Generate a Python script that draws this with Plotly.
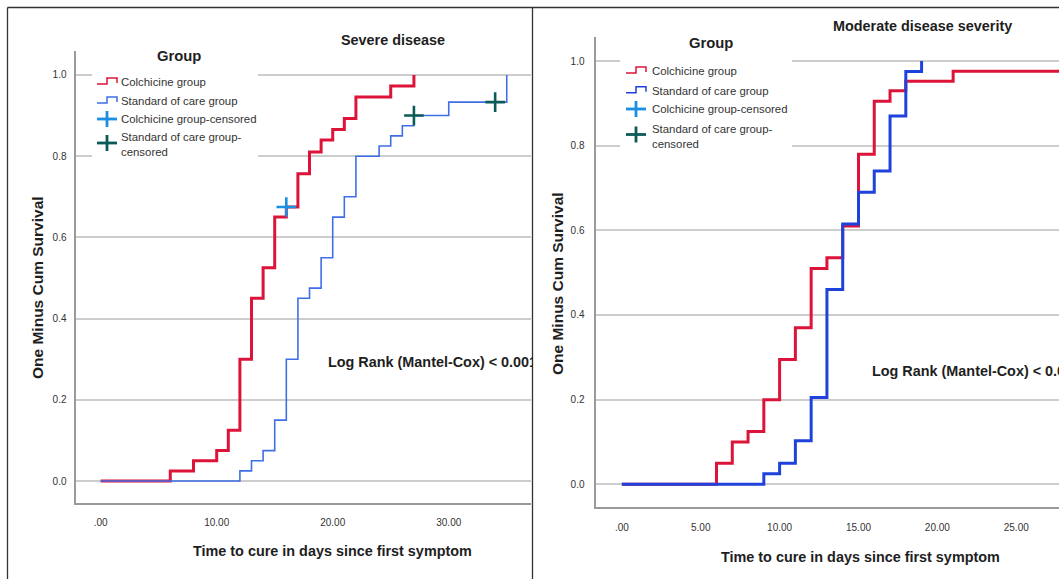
import plotly.graph_objects as go

W, H = 1059, 579

# ---------------- data ----------------
# Severe disease panel
severe_colch_days = [0, 6, 8, 10, 11, 12, 13, 14, 15, 16, 17, 18, 19, 20, 21, 22, 25, 27]
severe_colch_cum = [0.0, 0.025, 0.05, 0.075, 0.125, 0.30, 0.45, 0.525, 0.65, 0.675,
                    0.757, 0.81, 0.84, 0.866, 0.893, 0.946, 0.973, 1.0]
severe_soc_days = [0, 12, 13, 14, 15, 16, 17, 18, 19, 20, 21, 22, 24, 25, 26, 27, 30, 35]
severe_soc_cum = [0.0, 0.025, 0.05, 0.075, 0.15, 0.30, 0.45, 0.475, 0.55, 0.65,
                  0.70, 0.80, 0.825, 0.85, 0.875, 0.90, 0.933, 1.0]
severe_colch_cens_days = [16]
severe_colch_cens_cum = [0.675]
severe_soc_cens_days = [27, 34]
severe_soc_cens_cum = [0.90, 0.933]

# Moderate disease severity panel
moderate_colch_days = [0, 6, 7, 8, 9, 10, 11, 12, 13, 14, 15, 16, 17, 18, 21, 28]
moderate_colch_cum = [0.0, 0.05, 0.10, 0.125, 0.20, 0.295, 0.37, 0.51, 0.535, 0.61,
                      0.78, 0.905, 0.93, 0.952, 0.976, 0.976]
moderate_soc_days = [0, 9, 10, 11, 12, 13, 14, 15, 16, 17, 18, 19]
moderate_soc_cum = [0.0, 0.025, 0.05, 0.103, 0.205, 0.46, 0.615, 0.69, 0.74, 0.87, 0.975, 1.0]

# tick labels
x_tick_vals_severe = [0, 10, 20, 30]
x_tick_text_severe = [".00", "10.00", "20.00", "30.00"]
x_tick_vals_moderate = [0, 5, 10, 15, 20, 25]
x_tick_text_moderate = [".00", "5.00", "10.00", "15.00", "20.00", "25.00"]
y_tick_vals = [0, 0.2, 0.4, 0.6, 0.8, 1.0]
y_tick_text = ["0.0", "0.2", "0.4", "0.6", "0.8", "1.0"]

# texts
panel_titles = ["Severe disease", "Moderate disease severity"]
legend_title = "Group"
legend_labels = ["Colchicine group", "Standard of care group",
                 "Colchicine group-censored", "Standard of care group-<br>censored"]
x_title = "Time to cure in days since first symptom"
y_title = "One Minus Cum Survival"
log_rank_text = "Log Rank (Mantel-Cox) < 0.001"

# ---------------- styles ----------------
RED = "#dc1439"
BLUE_L = "#3f6fe6"
BLUE_R = "#1f42dc"
CENS_C = "#1a8fe3"
CENS_S = "#0c5a58"
GRID = "#cdcdcd"
AXIS = "#9a9a9a"
TXT = "#1e1e1e"
FONT = "Liberation Sans, Arial, sans-serif"
TITLE_SIZE = 14.4
LEG_SIZE = 11.4
TICK_SIZE = 10


def px(x):
    return x / W


def py(y):
    return 1 - y / H


fig = go.Figure()

# severe panel traces
fig.add_trace(go.Scatter(x=severe_colch_days, y=severe_colch_cum, mode="lines", line_shape="hv",
                         line=dict(color=RED, width=3), xaxis="x", yaxis="y", showlegend=False,
                         name=legend_labels[0]))
fig.add_trace(go.Scatter(x=severe_soc_days, y=severe_soc_cum, mode="lines", line_shape="hv",
                         line=dict(color=BLUE_L, width=1.6), xaxis="x", yaxis="y", showlegend=False,
                         name=legend_labels[1]))
fig.add_trace(go.Scatter(x=severe_colch_cens_days, y=severe_colch_cens_cum, mode="markers",
                         marker=dict(symbol="cross-thin", size=14, line=dict(color=CENS_C, width=2.6)),
                         xaxis="x", yaxis="y", showlegend=False, name=legend_labels[2]))
fig.add_trace(go.Scatter(x=severe_soc_cens_days, y=severe_soc_cens_cum, mode="markers",
                         marker=dict(symbol="cross-thin", size=14, line=dict(color=CENS_S, width=2.6)),
                         xaxis="x", yaxis="y", showlegend=False, name="Standard of care group-censored"))

# moderate panel traces
fig.add_trace(go.Scatter(x=moderate_colch_days, y=moderate_colch_cum, mode="lines", line_shape="hv",
                         line=dict(color=RED, width=3), xaxis="x2", yaxis="y2", showlegend=False,
                         name=legend_labels[0]))
fig.add_trace(go.Scatter(x=moderate_soc_days, y=moderate_soc_cum, mode="lines", line_shape="hv",
                         line=dict(color=BLUE_R, width=3), xaxis="x2", yaxis="y2", showlegend=False,
                         name=legend_labels[1]))

axis_common = dict(showline=True, linecolor=AXIS, linewidth=2, zeroline=False,
                   ticks="outside", tickcolor="rgba(0,0,0,0)",
                   tickfont=dict(family=FONT, size=TICK_SIZE, color="#333333"))

fig.update_layout(
    width=W, height=H, autosize=False,
    margin=dict(l=0, r=0, t=0, b=0, pad=0),
    paper_bgcolor="white", plot_bgcolor="white",
    xaxis=dict(domain=[px(75.5), px(531)], range=[-2.17, 37.09], anchor="y", showgrid=False,
               tickvals=x_tick_vals_severe, ticktext=x_tick_text_severe, ticklen=9, **axis_common),
    yaxis=dict(domain=[py(502.7), py(51)], range=[-0.0533, 1.059], anchor="x", showgrid=True,
               gridcolor=GRID, gridwidth=1.6, tickvals=y_tick_vals, ticktext=y_tick_text,
               ticklen=5, **axis_common),
    xaxis2=dict(domain=[px(595.5), 1.0], range=[-1.67, 27.71], anchor="y2", showgrid=False,
                tickvals=x_tick_vals_moderate, ticktext=x_tick_text_moderate, ticklen=10, **axis_common),
    yaxis2=dict(domain=[py(507.3), py(37)], range=[-0.0543, 1.0567], anchor="x2", showgrid=True,
                gridcolor=GRID, gridwidth=1.6, tickvals=y_tick_vals, ticktext=y_tick_text,
                ticklen=7, **axis_common),
)

shapes = []
annotations = []


def ann(x, y, text, size, bold=False, xanchor="center", yanchor="middle",
        align="center", textangle=0, width=None, color=TXT):
    t = "<b>%s</b>" % text if bold else text
    d = dict(x=px(x), y=py(y), xref="paper", yref="paper", text=t, showarrow=False,
             xanchor=xanchor, yanchor=yanchor, align=align, textangle=textangle,
             font=dict(family=FONT, size=size, color=color))
    if width is not None:
        d["width"] = width
    annotations.append(d)


def path_shape(points, color, width):
    p = "M " + " L ".join("%f,%f" % (px(a), py(b)) for a, b in points)
    shapes.append(dict(type="path", path=p, xref="paper", yref="paper",
                       line=dict(color=color, width=width), layer="above"))


def panel_legend(box, icon_x0, text_x, rows, title_xy, blue):
    # white background hiding gridlines
    shapes.append(dict(type="rect", xref="paper", yref="paper", x0=px(box[0]), x1=px(box[1]),
                       y0=py(box[3]), y1=py(box[2]), fillcolor="white", line=dict(width=0),
                       layer="above"))
    ann(title_xy[0], title_xy[1], legend_title, TITLE_SIZE + 0.4, bold=True)
    colors = [RED, blue]
    for i in range(2):
        c = rows[i]
        path_shape([(icon_x0, c + 2), (icon_x0 + 10, c + 2), (icon_x0 + 10, c - 4),
                    (icon_x0 + 20, c - 4), (icon_x0 + 20, c + 1)], colors[i], 1.5)
    for i, col in ((2, CENS_C), (3, CENS_S)):
        c = rows[i]
        path_shape([(icon_x0, c), (icon_x0 + 20, c)], col, 2.8)
        path_shape([(icon_x0 + 10, c - 8), (icon_x0 + 10, c + 8)], col, 2.8)
    for i, lab in enumerate(legend_labels):
        yy = rows[i] if i < 3 else rows[i] + 1.5
        ann(text_x, yy, lab, LEG_SIZE, xanchor="left", align="left", color="#333333")


# left panel legend
panel_legend(box=(92, 258, 38, 166), icon_x0=97, text_x=119,
             rows=[82, 101, 119, 143], title_xy=(179, 56), blue=BLUE_L)
# right panel legend
panel_legend(box=(620, 792, 28, 155), icon_x0=626, text_x=649.5,
             rows=[71, 90.7, 109, 134.5], title_xy=(710.7, 43), blue=BLUE_R)

# titles
ann(393, 40, panel_titles[0], TITLE_SIZE, bold=True)
ann(922, 26, panel_titles[1], TITLE_SIZE, bold=True)
# axis titles
ann(332, 550.5, x_title, TITLE_SIZE, bold=True)
ann(860, 556.5, x_title, TITLE_SIZE, bold=True)
ann(37, 288, y_title, 15.5, bold=True, textangle=-90)
ann(557, 284, y_title, 15.5, bold=True, textangle=-90)
# log rank notes (cut at the panel edge like the reference)
ann(326, 361.7, log_rank_text, TITLE_SIZE, bold=True, xanchor="left", align="left", width=205)
ann(870, 370.7, log_rank_text, TITLE_SIZE, bold=True, xanchor="left", align="left")

# panel borders
for seg in [((7.5, 7.5), (1059, 7.5)), ((7.5, 7.5), (7.5, 579)), ((532.5, 7.5), (532.5, 579))]:
    shapes.append(dict(type="line", xref="paper", yref="paper",
                       x0=px(seg[0][0]), y0=py(seg[0][1]), x1=px(seg[1][0]), y1=py(seg[1][1]),
                       line=dict(color="#333333", width=1.3), layer="above"))

fig.update_layout(shapes=shapes, annotations=annotations)

fig.write_html("out.html", config={"displayModeBar": False},
               post_script="document.body.style.margin='0';document.body.style.overflow='hidden';")
